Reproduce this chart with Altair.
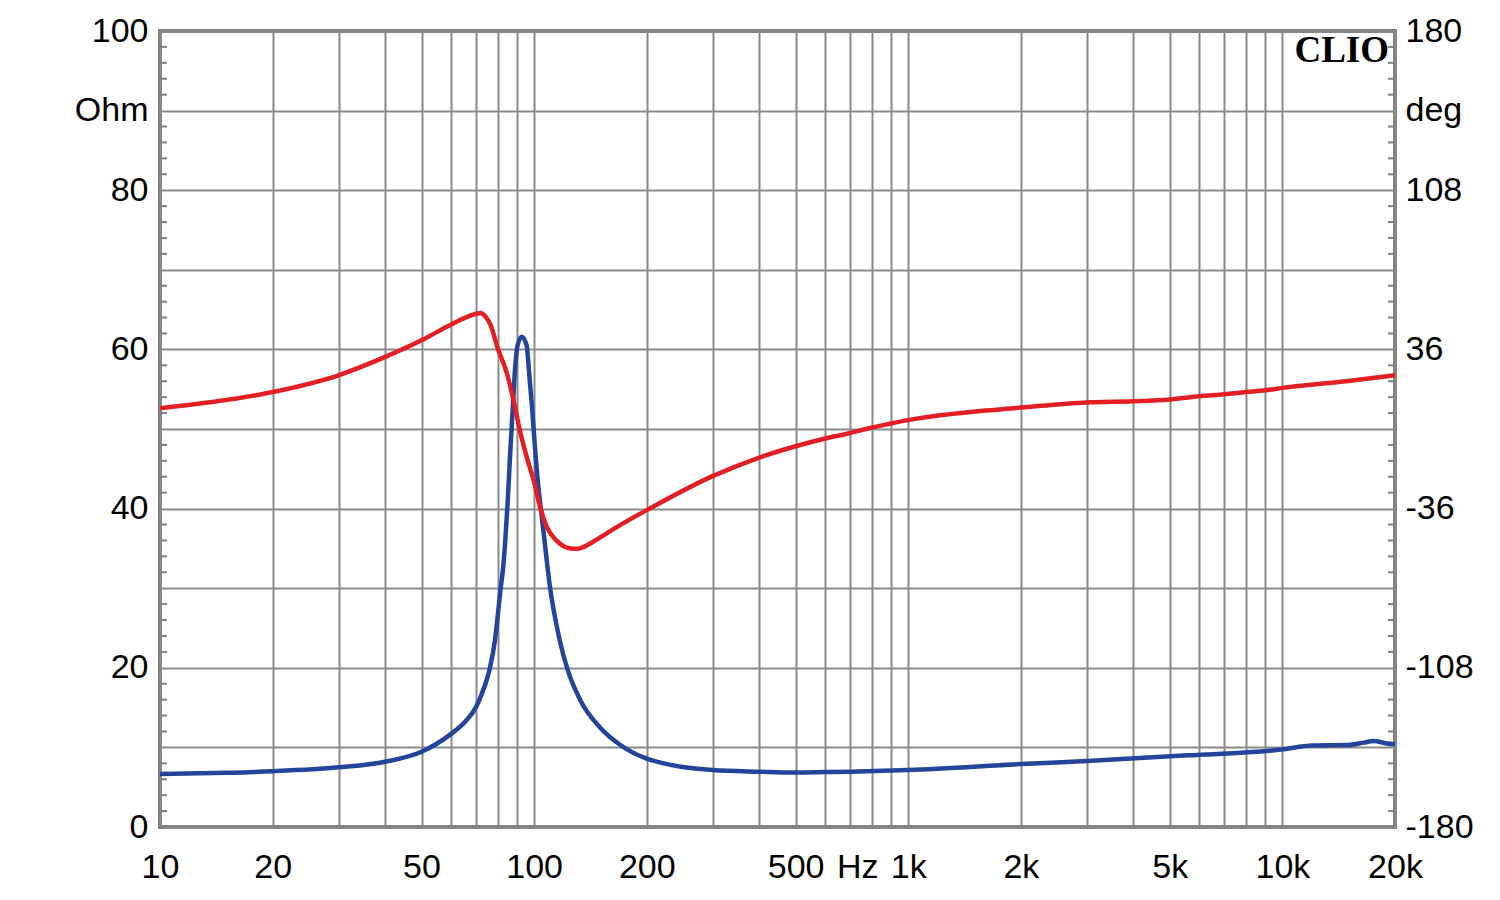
import altair as alt
import pandas as pd

# ---- data ----
imp_freq = [10, 15, 20, 30, 40, 50, 60, 65, 70, 71.7, 74.7, 76.2, 78.6, 81.4, 82.6, 83.6,
            84.9, 86.2, 87.6, 88.9, 90.3, 92.7, 95.5, 97, 98.8, 100.6, 102.5, 104.5, 106.3,
            110, 117, 123, 133, 150, 170, 200, 300, 400, 500, 600, 700, 1000, 2000, 3000,
            5600, 10000, 12000, 15000, 16500, 17500, 19000, 20000]
imp_ohm = [6.65, 6.8, 7.0, 7.5, 8.2, 9.45, 11.7, 13.1, 15.1, 16.2, 18.5, 20.0, 23.5, 30.0,
           32.5, 35.5, 40.5, 46.5, 52.3, 57.5, 60.5, 61.6, 60.5, 57.0, 52.5, 47.5, 43.0,
           39.5, 36.5, 30.5, 23.5, 19.7, 15.9, 12.5, 10.3, 8.6, 7.15, 6.95, 6.85, 6.9,
           6.95, 7.15, 7.9, 8.3, 9.0, 9.75, 10.25, 10.3, 10.6, 10.8, 10.5, 10.4]

ph_freq = [10, 20, 30, 40, 50, 60, 66, 70, 72, 74, 76.2, 80, 84.6, 88.1, 91.6, 95.5, 100,
           103.8, 108.1, 114.8, 120, 125, 130, 135, 140.6, 156, 172.8, 200, 300, 400, 500,
           600, 700, 800, 900, 1000, 1650, 2000, 3000, 4000, 5000, 6000, 7000, 8000, 9000,
           10000, 15000, 20000]
ph_deg = [9.4, 16.7, 24.3, 32.6, 40.1, 47.3, 50.6, 52.1, 52.5, 51.0, 47.7, 36.4, 25.1, 13.0,
          -0.6, -12.6, -24.0, -35.5, -44.3, -50.5, -53.0, -54.0, -54.2, -53.5, -52.0,
          -47.3, -42.7, -36.7, -21.3, -12.9, -7.8, -4.3, -1.8, 0.7, 2.5, 4.0, 8.5, 9.7,
          12.0, 12.5, 13.3, 14.8, 15.7, 16.7, 17.5, 18.6, 21.7, 24.3]

x_grid = [10, 20, 30, 40, 50, 60, 70, 80, 90, 100, 200, 300, 400, 500, 600, 700, 800, 900,
          1000, 2000, 3000, 4000, 5000, 6000, 7000, 8000, 9000, 10000, 20000]
x_label_vals = [10, 20, 50, 100, 200, 500, 700, 1000, 2000, 5000, 10000, 20000]
x_label_txt = ["10", "20", "50", "100", "200", "500", "Hz", "1k", "2k", "5k", "10k", "20k"]

y_left_vals = [0, 10, 20, 30, 40, 50, 60, 70, 80, 90, 100]
y_left_lab_vals = [0, 20, 40, 60, 80, 90, 100]
y_left_lab_txt = ["0", "20", "40", "60", "80", "Ohm", "100"]

y_right_vals = [-180, -108, -36, 36, 108, 144, 180]
y_right_txt = ["-180", "-108", "-36", "36", "108", "deg", "180"]

minor_ticks = [v for v in range(2, 100, 2) if v % 10 != 0]

# ---- build ----
imp_df = pd.DataFrame({"f": imp_freq, "z": imp_ohm})
ph_df = pd.DataFrame({"f": ph_freq, "p": ph_deg})
tick_df = pd.DataFrame({"f": [10] * len(minor_ticks), "z": minor_ticks})


def label_expr(vals, txts):
    parts = " : ".join(f"datum.value == {v} ? '{t}'" for v, t in zip(vals, txts))
    return parts + " : ''"


FONT = "Liberation Sans"
FS = 34
W, H = 1235, 796

xscale = alt.Scale(type="log", domain=[10, 20000], nice=False)
zscale = alt.Scale(domain=[0, 100], nice=False, zero=False)
pscale = alt.Scale(domain=[-180, 180], nice=False, zero=False)

x_axis = alt.Axis(
    values=x_grid, grid=True, ticks=False, domain=False, title=None,
    labelExpr=label_expr(x_label_vals, x_label_txt), labelOverlap=False,
    labelFont=FONT, labelFontSize=FS, labelColor="black", labelPadding=23,
    labelFlush=False,
    labelOffset={"condition": {"test": "datum.value == 700", "value": 7}, "value": 0},
    gridColor="#8a8a8a", gridWidth=2, gridOpacity=1,
)

y_axis = alt.Axis(
    values=y_left_vals, grid=True, ticks=False, domain=False, title=None,
    labelExpr=label_expr(y_left_lab_vals, y_left_lab_txt), labelOverlap=False,
    labelFont=FONT, labelFontSize=FS, labelColor="black", labelPadding=12,
    labelFlush=False, gridColor="#8a8a8a", gridWidth=2, gridOpacity=1,
)

r_axis = alt.Axis(
    orient="right", values=y_right_vals, grid=False, ticks=False, domain=False,
    title=None, labelExpr=label_expr(y_right_vals, y_right_txt), labelOverlap=False,
    labelFont=FONT, labelFontSize=FS, labelColor="black", labelPadding=10,
    labelFlush=False,
)

X = alt.X("f:Q", scale=xscale, axis=x_axis)
Y = alt.Y("z:Q", scale=zscale, axis=y_axis)

imp_line = alt.Chart(imp_df).mark_line(
    color="#24439a", strokeWidth=4.5, interpolate="monotone"
).encode(x=X, y=Y)

ticks_left = alt.Chart(tick_df).mark_rule(color="#808080", strokeWidth=2).encode(
    y=Y, x=alt.value(0), x2=alt.value(7),
)
ticks_right = alt.Chart(tick_df).mark_rule(color="#808080", strokeWidth=2).encode(
    y=Y, x=alt.value(W - 7), x2=alt.value(W),
)

left = alt.layer(imp_line, ticks_left, ticks_right)

ph_line = alt.Chart(ph_df).mark_line(
    color="#e31e24", strokeWidth=4.5, interpolate="monotone"
).encode(
    x=X,
    y=alt.Y("p:Q", scale=pscale, axis=r_axis),
)

clio = alt.Chart(pd.DataFrame({"t": ["CLIO"]})).mark_text(
    font="Liberation Serif", fontWeight="bold", fontSize=37, align="right",
    baseline="alphabetic", color="black"
).encode(text="t:N", x=alt.value(W - 6), y=alt.value(31))

chart = alt.layer(left, ph_line, clio).resolve_scale(y="independent").properties(
    width=W, height=H,
    autosize=alt.AutoSizeParams(type="none"),
    padding={"left": 160, "top": 31, "right": 105, "bottom": 73},
    background="white",
).configure_view(stroke="#808080", strokeWidth=4)

chart.save("out.html", embed_options={"renderer": "svg", "actions": False})
